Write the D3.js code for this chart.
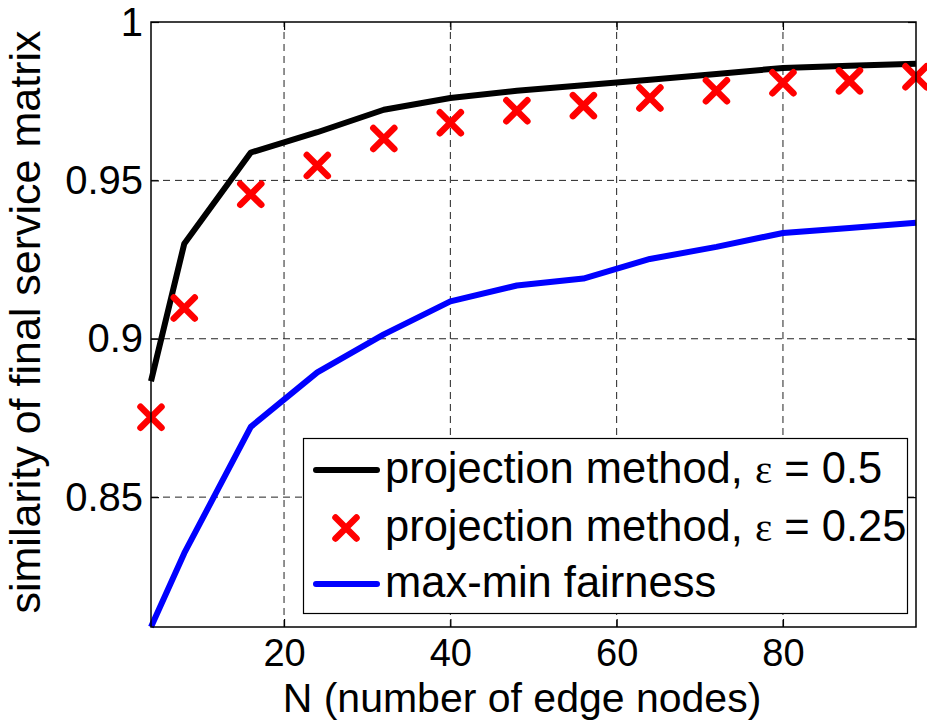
<!DOCTYPE html>
<html>
<head>
<meta charset="utf-8">
<script src="https://cdn.jsdelivr.net/npm/d3@7"></script>
<style>
  body { margin: 0; background: #fff; }
  text { font-family: "Liberation Sans", Arial, Helvetica, sans-serif; fill: #000; }
</style>
</head>
<body>
<div id="chart"></div>
<script>
/* similarity vs. number of edge nodes */

const width = 927,
    height = 721,
    margin = ({ top: 22, right: 11, bottom: 94, left: 151 });

// data
const nodes = [4, 8, 16, 24, 32, 40, 48, 56, 64, 72, 80, 88, 96];
const projHalf = [0.8866, 0.930, 0.9588, 0.9652, 0.9723, 0.9760, 0.9783, 0.9800, 0.9818, 0.9836, 0.9855, 0.9862, 0.9868];
const projQuarter = [0.8752, 0.9097, 0.9456, 0.9547, 0.9632, 0.9682, 0.9720, 0.9736, 0.9760, 0.9783, 0.9808, 0.9814, 0.9827];
const maxMin = [0.809, 0.8323, 0.8722, 0.8894, 0.9014, 0.9118, 0.9168, 0.9190, 0.9252, 0.9290, 0.9334, 0.9350, 0.9366];

const xTicks = [20, 40, 60, 80];
const yTicks = [0.85, 0.9, 0.95, 1];
const yTickLabels = ["0.85", "0.9", "0.95", "1"];

const svg = d3.select("#chart")
    .append("svg")
    .attr("width", width)
    .attr("height", height);

let x = d3.scaleLinear()
    .domain([4, 96])
    .range([margin.left, width - margin.right]);

let y = d3.scaleLinear()
    .domain([0.809, 1])
    .range([height - margin.bottom, margin.top]);

// dashed grid
svg.append("g")
  .selectAll("line")
  .data(xTicks)
  .join("line")
    .attr("x1", d => x(d)).attr("x2", d => x(d))
    .attr("y1", y.range()[0]).attr("y2", y.range()[1])
    .attr("stroke", "#222")
    .attr("stroke-width", 1)
    .attr("stroke-dasharray", "7,5");

svg.append("g")
  .selectAll("line")
  .data(yTicks.filter(d => d < 1))
  .join("line")
    .attr("x1", x.range()[0]).attr("x2", x.range()[1])
    .attr("y1", d => y(d)).attr("y2", d => y(d))
    .attr("stroke", "#222")
    .attr("stroke-width", 1)
    .attr("stroke-dasharray", "7,5");

let line = d3.line()
    .x((d, i) => x(nodes[i]))
    .y(d => y(d));

svg.append("path")
    .datum(maxMin)
    .attr("d", line)
    .attr("fill", "none")
    .attr("stroke", "#0000ff")
    .attr("stroke-width", 6)
    .attr("stroke-linejoin", "round");

svg.append("path")
    .datum(projHalf)
    .attr("d", line)
    .attr("fill", "none")
    .attr("stroke", "#000")
    .attr("stroke-width", 6)
    .attr("stroke-linejoin", "round");

const crossPath = s => `M${-s},${-s}L${s},${s}M${-s},${s}L${s},${-s}`;

svg.append("g")
  .selectAll("path")
  .data(projQuarter)
  .join("path")
    .attr("transform", (d, i) => `translate(${x(nodes[i])},${y(d)})`)
    .attr("d", crossPath(10.5))
    .attr("fill", "none")
    .attr("stroke", "#ff0000")
    .attr("stroke-width", 6.5)
    .attr("stroke-linecap", "round");

// axes, ticks pointing inward (matlab style)
svg.append("g")
    .attr("transform", `translate(0,${height - margin.bottom})`)
    .call(d3.axisBottom(x).tickValues(xTicks).tickSize(-8).tickPadding(12).tickSizeOuter(0))
    .call(g => g.selectAll("text").attr("font-size", 38).attr("font-family", null));

svg.append("g")
    .attr("transform", `translate(0,${margin.top})`)
    .call(d3.axisTop(x).tickValues(xTicks).tickSize(-8).tickFormat("").tickSizeOuter(0));

svg.append("g")
    .attr("transform", `translate(${margin.left},0)`)
    .call(d3.axisLeft(y).tickValues(yTicks).tickSize(-8).tickPadding(8).tickSizeOuter(0)
        .tickFormat((d, i) => yTickLabels[i]))
    .call(g => g.selectAll("text").attr("font-size", 40).attr("font-family", null).attr("dy", "0.33em"));

svg.append("g")
    .attr("transform", `translate(${width - margin.right},0)`)
    .call(d3.axisRight(y).tickValues(yTicks).tickSize(-8).tickFormat("").tickSizeOuter(0));

svg.selectAll(".domain").remove();
svg.selectAll(".tick line").attr("stroke", "#000").attr("stroke-width", 1.2);

// box
svg.append("rect")
    .attr("x", x.range()[0])
    .attr("y", y.range()[1])
    .attr("width", x.range()[1] - x.range()[0])
    .attr("height", y.range()[0] - y.range()[1])
    .attr("fill", "none")
    .attr("stroke", "#000")
    .attr("stroke-width", 1.5);

// axis labels
svg.append("text")
    .attr("text-anchor", "middle")
    .attr("x", 522)
    .attr("y", 712)
    .attr("font-size", 41)
    .text("N (number of edge nodes)");

svg.append("text")
    .attr("text-anchor", "middle")
    .attr("transform", "translate(40,322) rotate(-90)")
    .attr("font-size", 43)
    .text("similarity of final service matrix");

// legend
const legend = svg.append("g");

legend.append("rect")
    .attr("x", 303.5)
    .attr("y", 438.5)
    .attr("width", 604)
    .attr("height", 175)
    .attr("fill", "#fff")
    .attr("stroke", "#000")
    .attr("stroke-width", 1.2);

const legendRows = [
  { label: "projection method, ", eps: "0.5", type: "line", color: "#000", cy: 470 },
  { label: "projection method, ", eps: "0.25", type: "cross", color: "#ff0000", cy: 528 },
  { label: "max-min fairness", eps: null, type: "line", color: "#0000ff", cy: 584 }
];

legendRows.forEach(r => {
  if (r.type === "line") {
    legend.append("line")
        .attr("x1", 316).attr("x2", 377)
        .attr("y1", r.cy).attr("y2", r.cy)
        .attr("stroke", r.color)
        .attr("stroke-width", 6)
        .attr("stroke-linecap", "round");
  } else {
    legend.append("path")
        .attr("transform", `translate(346,${r.cy})`)
        .attr("d", crossPath(10.5))
        .attr("fill", "none")
        .attr("stroke", r.color)
        .attr("stroke-width", 6.5)
        .attr("stroke-linecap", "round");
  }
  let t = legend.append("text")
      .attr("x", 385)
      .attr("y", r.cy + 13)
      .attr("font-size", 43.5)
      .text(r.label);
  if (r.eps) {
    t.append("tspan")
        .attr("font-family", "'Liberation Serif', 'Times New Roman', serif")
        .attr("font-size", 41)
        .text("ε");
    t.append("tspan").text(" = " + r.eps);
  }
});
</script>
</body>
</html>
